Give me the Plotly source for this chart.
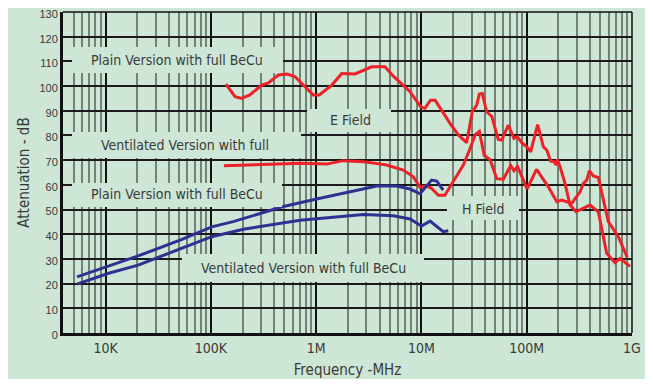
import plotly.graph_objects as go

# ---- data (frequency in Hz, attenuation in dB) ----
e_plain_f = [139e3, 170e3, 196e3, 235e3, 304e3, 352e3, 438e3, 532e3, 631e3, 940e3,
             1.07e6, 1.41e6, 1.75e6, 2.34e6, 3.37e6, 4.51e6, 5.41e6, 7.80e6, 9.84e6, 10.8e6,
             12.2e6, 13.5e6, 18.7e6, 22.4e6, 26.9e6, 30.4e6, 33.5e6, 35.5e6, 37.8e6, 41.7e6,
             46.6e6, 53.7e6, 57.9e6, 66.8e6, 75.7e6, 81.5e6, 89.7e6, 100e6, 109e6, 127e6,
             144e6, 155e6, 169e6, 182e6, 190e6, 195e6, 207e6, 231e6, 258e6, 294e6,
             399e6, 479e6, 575e6, 690e6, 769e6, 957e6]
e_plain_db = [100.8, 95.7, 95.0, 96.4, 100.4, 101.3, 104.5, 104.9, 103.8, 96.4,
              96.4, 100.4, 105.1, 104.9, 107.8, 107.8, 104.0, 97.7, 91.6, 91.0,
              94.3, 94.3, 84.9, 80.2, 77.1, 89.6, 92.3, 96.8, 97.0, 89.6,
              87.7, 78.4, 78.1, 84.2, 78.8, 79.5, 77.1, 75.4, 73.4, 84.4,
              75.4, 74.1, 69.6, 69.4, 68.0, 70.3, 67.4, 60.6, 51.8, 49.1,
              51.8, 49.1, 32.3, 28.5, 30.2, 27.0]

e_vent_f = [133e3, 340e3, 703e3, 1.26e6, 1.81e6, 2.81e6, 4.68e6, 6.73e6, 8.38e6, 9.70e6,
            11.2e6, 12.5e6, 14.5e6, 16.7e6, 20.8e6, 25.0e6, 29.0e6, 32.3e6, 35.5e6, 39.5e6,
            44.8e6, 51.9e6, 60.0e6, 70.5e6, 75.7e6, 81.8e6, 101e6, 124e6, 160e6, 193e6,
            215e6, 240e6, 267e6, 321e6, 345e6, 372e6, 393e6, 429e6, 479e6, 596e6,
            741e6, 902e6]
e_vent_db = [67.7, 68.4, 68.7, 68.4, 69.8, 69.4, 68.0, 66.0, 63.3, 59.0,
             59.6, 58.5, 55.8, 55.8, 62.3, 68.0, 74.7, 80.2, 81.6, 71.9,
             70.3, 62.5, 62.3, 67.8, 65.7, 67.4, 58.4, 66.3, 59.3, 53.2,
             53.8, 53.2, 52.5, 57.2, 60.6, 61.9, 65.7, 63.6, 63.0, 45.1,
             39.0, 30.6]

h_plain_f = [5.36e3, 10.7e3, 20.4e3, 51.8e3, 102e3, 163e3, 478e3, 1.01e6, 3.77e6, 5.82e6,
             7.80e6, 9.70e6, 12.5e6, 14.0e6, 16.1e6]
h_plain_db = [22.7, 27.1, 31.2, 37.7, 43.0, 45.1, 51.1, 54.3, 59.5, 59.5,
              58.3, 56.4, 61.9, 61.5, 57.9]

h_vent_f = [5.36e3, 10.7e3, 20.4e3, 51.8e3, 102e3, 204e3, 703e3, 2.81e6, 5.41e6, 7.80e6,
            10.0e6, 12.1e6, 16.1e6, 18.0e6]
h_vent_db = [19.8, 24.2, 27.5, 34.3, 39.0, 42.0, 45.7, 48.0, 47.5, 46.2,
             43.3, 45.3, 41.0, 41.4]

x_tick_vals = [1e4, 1e5, 1e6, 1e7, 1e8, 1e9]
x_tick_text = ["10K", "100K", "1M", "10M", "100M", "1G"]
y_tick_vals = list(range(0, 131, 10))

minor_vals = [m * 10 ** e for e in range(3, 9) for m in range(2, 10) if m * 10 ** e > 4.5e3]

BG = "#cde6d5"
RED = "#ec2228"
BLUE = "#2e3192"
TXT = "#3a3a3a"
NARROW = "Liberation Sans Narrow, Arial Narrow, DejaVu Sans Condensed, sans-serif"
REG = "Liberation Sans, Arial, sans-serif"

fig = go.Figure()
for f, d, c in [(e_plain_f, e_plain_db, RED), (e_vent_f, e_vent_db, RED),
                (h_plain_f, h_plain_db, BLUE), (h_vent_f, h_vent_db, BLUE)]:
    fig.add_trace(go.Scatter(x=f, y=d, mode="lines", line=dict(color=c, width=3),
                             showlegend=False, hoverinfo="skip"))

# page offset of the plot div (default body margin)
OFF = 8
W, H = 653 - 2 * OFF, 387 - 2 * OFF
# plot area in page pixels: left 63, right 632, top 12, bottom 333
L, R, T, B = 63, 632, 12, 333
def px(x):
    return (x - L) / (R - L)
def py(y):
    return (B - y) / (B - T)

boxes = [
    (72, 283, 47, 73, "Plain Version with full BeCu", 177, 60),
    (72, 301, 132, 158, "Ventilated Version with full", 185, 145),
    (72, 282, 183, 207, "Plain Version with full BeCu", 177, 194),
    (182, 424, 254, 282, "Ventilated Version with full BeCu", 303, 268),
    (307, 391, 109, 132, "E Field", 350, 120),
    (447, 519, 196, 220, "H Field", 483, 209),
]
shapes = []
annotations = []
for x0, x1, y0, y1, text, tx, ty in boxes:
    shapes.append(dict(type="rect", xref="paper", yref="paper", x0=px(x0), x1=px(x1),
                       y0=py(y1), y1=py(y0), fillcolor=BG, line=dict(width=0),
                       layer="above"))
    annotations.append(dict(xref="paper", yref="paper", x=px(tx), y=py(ty), text=text,
                            showarrow=False, xanchor="center", yanchor="middle",
                            font=dict(family=NARROW, size=14, color=TXT)))

# top and right border
shapes.append(dict(type="line", xref="paper", yref="paper", x0=0, x1=1, y0=1, y1=1,
                   line=dict(color="#111", width=1.5), layer="above"))
shapes.append(dict(type="line", xref="paper", yref="paper", x0=1, x1=1, y0=0, y1=1,
                   line=dict(color="#111", width=1.5), layer="above"))

fig.update_layout(
    width=W, height=H,
    margin=dict(l=L - OFF, r=W - (R - OFF), t=T - OFF, b=H - (B - OFF), autoexpand=False),
    paper_bgcolor=BG, plot_bgcolor=BG,
    shapes=shapes, annotations=annotations,
    showlegend=False,
)
fig.update_xaxes(
    type="log", range=[3.596, 9], automargin=False, ticklabeloverflow="allow",
    tickmode="array", tickvals=x_tick_vals, ticktext=x_tick_text,
    showgrid=True, gridcolor="#111", gridwidth=1.5,
    minor=dict(tickmode="array", tickvals=minor_vals, showgrid=True,
               gridcolor="rgba(40,50,40,0.55)", gridwidth=2, ticks=""),
    showline=True, linecolor="#111", linewidth=3, ticks="", zeroline=False,
    tickfont=dict(family=NARROW, size=14, color=TXT),
    title=dict(text="Frequency -MHz", font=dict(family=NARROW, size=15, color=TXT), standoff=16),
)
fig.update_yaxes(
    range=[0, 130], tickmode="array", tickvals=y_tick_vals, automargin=False,
    ticklabeloverflow="allow", ticklabelshift=2,
    showgrid=True, gridcolor="#1a1a1a", gridwidth=1.5,
    showline=True, linecolor="#111", linewidth=3, ticks="", zeroline=False,
    tickfont=dict(family=REG, size=11, color=TXT),
    title=dict(text="Attenuation - dB", font=dict(family=NARROW, size=15, color=TXT), standoff=7),
)

fig.write_html("out.html")
